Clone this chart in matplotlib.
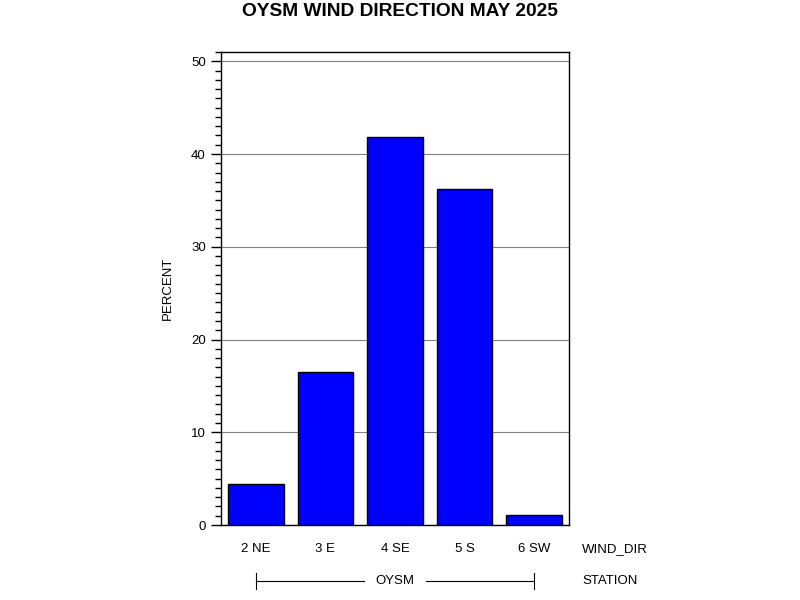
import matplotlib
matplotlib.use("Agg")
import matplotlib.pyplot as plt
from matplotlib.ticker import MultipleLocator

plt.rcParams['font.family'] = ['Liberation Sans', 'DejaVu Sans']

categories = ["2 NE", "3 E", "4 SE", "5 S", "6 SW"]
percent = [4.4, 16.5, 41.8, 36.2, 1.1]
station = "OYSM"
title = "OYSM WIND DIRECTION MAY 2025"

fig = plt.figure(figsize=(8, 6), dpi=100)
ax = fig.add_axes([221/800, 1-525/600, 348/800, 473/600])

x = list(range(len(categories)))
ax.bar(x, percent, width=0.8, color="#0000ff", edgecolor="black", linewidth=1, zorder=3)
ax.set_xlim(-0.5, len(categories) - 0.5)
ax.set_ylim(0, 51)
ax.yaxis.set_major_locator(MultipleLocator(10))
ax.yaxis.set_minor_locator(MultipleLocator(1))
ax.grid(axis='y', which='major', color='#808080', linewidth=0.8, zorder=0)
ax.tick_params(axis='y', which='major', length=7, width=1, labelsize=9.5, pad=4)
ax.tick_params(axis='y', which='minor', length=4, width=1)
ax.set_xticks(x)
ax.set_xticklabels(categories, fontsize=9.5)
ax.tick_params(axis='x', length=0, pad=13)
for s in ax.spines.values():
    s.set_linewidth(1)
    s.set_color('black')
ax.set_ylabel("PERCENT", fontsize=9.5, labelpad=12)

fig.text(0.5, 1-11/600, title, ha='center', va='center', fontsize=13.8, fontweight='bold')

# axis level labels
fig.text(582/800, 1-549/600, "WIND_DIR", ha='left', va='center', fontsize=9.5)
fig.text(582/800, 1-581/600, "STATION", ha='left', va='center', fontsize=9.5)

# station bracket
trans = ax.get_xaxis_transform()
yb = -(581-525)/473
ax.plot([0, 1.55], [yb, yb], color='black', lw=0.8, transform=trans, clip_on=False)
ax.plot([2.45, 4], [yb, yb], color='black', lw=0.8, transform=trans, clip_on=False)
for xe in (0, 4):
    ax.plot([xe, xe], [yb - 8/473, yb + 8/473], color='black', lw=0.8, transform=trans, clip_on=False)
ax.text(2, yb, station, ha='center', va='center', fontsize=9.5, transform=trans)

fig.savefig("out.png", dpi=100)
